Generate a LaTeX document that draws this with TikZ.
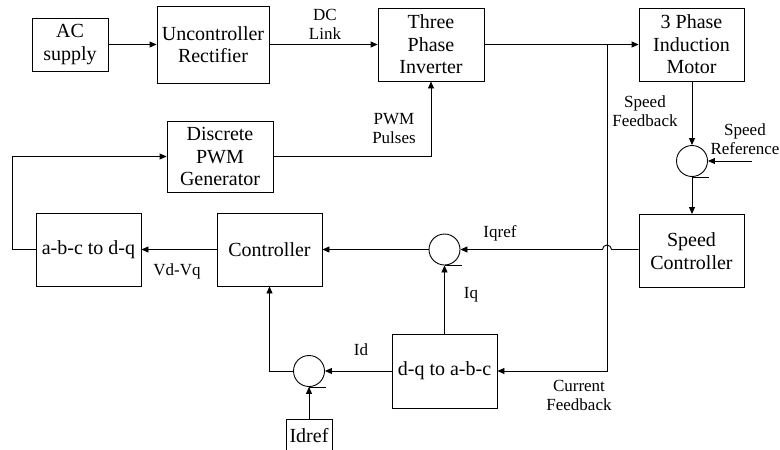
\documentclass[tikz,border=0pt]{standalone}
\usepackage{fontspec}
\setmainfont{Liberation Serif}
\usetikzlibrary{arrows.meta}
\begin{document}
\begin{tikzpicture}[x=1pt,y=-1pt,
  line width=0.9pt,
  blk/.style={draw,align=center,inner sep=0pt,font=\fontsize{20}{22.5}\selectfont},
  sumc/.style={draw,circle,minimum size=31pt,inner sep=0pt},
  lbl/.style={align=center,inner sep=0pt,font=\fontsize{17}{19}\selectfont},
  arr/.style={-{Triangle[length=7pt,width=6pt]}}]
\useasboundingbox (0,0) rectangle (780,450);
\clip (0,0) rectangle (780,450);
% blocks
\node[blk,minimum width=76pt,minimum height=53pt] (ac) at (70,44.5) {AC\\supply};
\node[blk,minimum width=112pt,minimum height=77pt] (rect) at (213,44.5) {Uncontroller\\Rectifier};
\node[blk,minimum width=106pt,minimum height=73pt] (inv) at (431,44.5) {Three\\Phase\\Inverter};
\node[blk,minimum width=105pt,minimum height=73pt] (mot) at (691.5,44.5) {3 Phase\\Induction\\Motor};
\node[blk,minimum width=106pt,minimum height=71pt] (pwm) at (220,156.5) {Discrete\\PWM\\Generator};
\node[blk,minimum width=105pt,minimum height=73pt] (abc) at (88.5,249.5) {a-b-c to d-q};
\node[blk,minimum width=105pt,minimum height=73pt] (ctrl) at (269.5,249.5) {Controller};
\node[blk,minimum width=105pt,minimum height=73pt] (spc) at (691.5,251) {Speed\\Controller};
\node[blk,minimum width=105pt,minimum height=74pt] (dq) at (444.5,371) {d-q to a-b-c};
\node[blk,minimum width=46pt,minimum height=34pt] (idref) at (309,436) {Idref};
% summing junctions
\node[sumc] (ss) at (692,161) {};
\node[sumc] (sq) at (444.5,249.5) {};
\node[sumc] (sd) at (309,371) {};
\draw (ss.south) -- ++(17,0);
\draw (sq.south) -- ++(17,0);
\draw (sd.south) -- ++(17,0);
% coordinates
\coordinate (j1) at (607,44.5);
\coordinate (sref) at (752,161);
% connectors
\draw[arr] (ac) -- (rect);
\draw[arr] (rect) -- (inv);
\draw[arr] (inv) -- (mot);
\draw[arr] (pwm.east) -- (inv.south |- pwm.east) -- (inv.south);
\draw[arr] (abc.west) -- ++(-23.5,0) |- (pwm.west);
\draw[arr] (ctrl.west) -- (abc.east);
\draw[arr] (sq.west) -- (ctrl.east);
\draw[arr] (spc.west |- sq.east) -- (611.5,249.5) arc[start angle=0,end angle=-180,radius=4.5] -- (sq.east);
\draw[arr] (mot.south -| ss.north) -- (ss.north);
\draw[arr] (sref) -- (ss.east);
\draw[arr] (ss.south) -- (spc.north -| ss.south);
\draw[arr] (j1) -- (j1 |- dq.east) -- (dq.east);
\draw[arr] (dq.north) -- (sq.south);
\draw[arr] (dq.west) -- (sd.east);
\draw[arr] (sd.west) -- (ctrl.south |- sd.west) -- (ctrl.south);
\draw[arr] (idref.north) -- (sd.south);
% labels
\node[lbl] (l1) at (325,24) {DC\\Link};
\node[lbl] (l2) at (394,128.5) {PWM\\Pulses};
\node[lbl] (l3) at (645,111.5) {Speed\\Feedback};
\node[lbl] (l4) at (745,139) {Speed\\Reference};
\node[lbl] (l5) at (500,233) {Iqref};
\node[lbl] (l6) at (471,295) {Iq};
\node[lbl] (l7) at (177,271) {Vd-Vq};
\node[lbl] (l8) at (361,350) {Id};
\node[lbl] (l9) at (579,395) {Current\\Feedback};
\end{tikzpicture}
\end{document}
